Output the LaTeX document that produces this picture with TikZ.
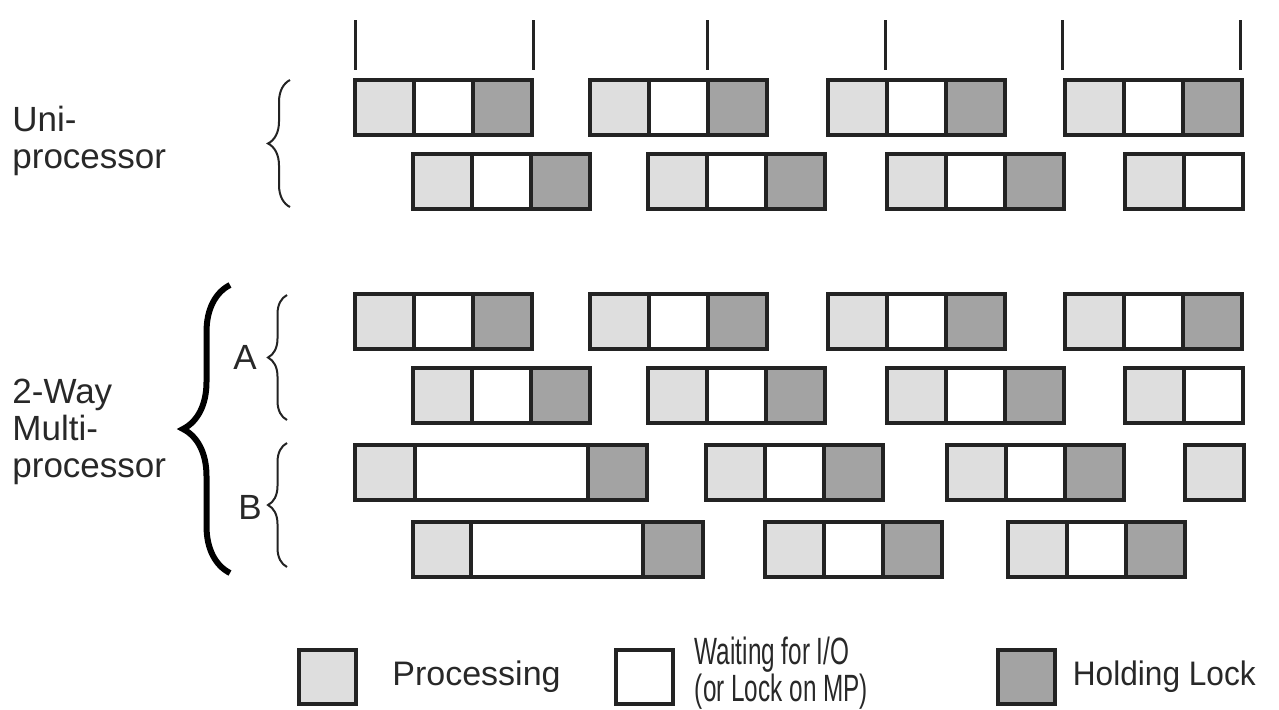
\documentclass[tikz,border=0pt]{standalone}
\usepackage{fontspec}
\setmainfont{Liberation Sans}
\usepackage{graphicx}
\usetikzlibrary{positioning,decorations.pathreplacing}
\definecolor{ProcGray}{RGB}{222,222,222}
\definecolor{HoldGray}{RGB}{163,163,163}
\definecolor{EdgeGray}{RGB}{35,35,35}
\definecolor{TextGray}{RGB}{40,40,40}

\newcommand{\cellbox}[4]{\draw[cell,fill=#4] (#1,#3) rectangle (#2,#3+55);}
\newcommand{\stdblock}[2]{\cellbox{#1}{#1+59}{#2}{ProcGray}\cellbox{#1+59}{#1+118}{#2}{white}\cellbox{#1+118}{#1+177}{#2}{HoldGray}}

\begin{document}
\begin{tikzpicture}[x=0.5pt,y=-0.5pt,
  cell/.style={draw=EdgeGray,line width=2pt},
  tick/.style={draw=EdgeGray,line width=1.5pt},
  thinbrace/.style={decorate,decoration={brace,amplitude=#1},draw=EdgeGray,line width=1pt},
  bigbrace/.style={decorate,decoration={brace,amplitude=#1},draw=black,line width=3pt},
  lbl/.style={inner sep=0pt,align=left,text=TextGray,font=\fontsize{17.5}{18.5}\selectfont},
  legbox/.style={draw=EdgeGray,line width=2pt,minimum width=28.5pt,minimum height=27pt,inner sep=0pt}]
\useasboundingbox (0,0) rectangle (1279,709);

\foreach \x in {355,533,707,885,1062,1240}
  \draw[tick] (\x,20) -- (\x,70);

\foreach \x in {355,590,828,1065} {\stdblock{\x}{80}\stdblock{\x}{294}}
\foreach \x in {413,648,887} {\stdblock{\x}{154}\stdblock{\x}{368}}
\foreach \y in {154,368} {\cellbox{1125}{1184}{\y}{ProcGray}\cellbox{1184}{1243}{\y}{white}}

\cellbox{355}{415}{445}{ProcGray}\cellbox{415}{588}{445}{white}\cellbox{588}{647}{445}{HoldGray}
\stdblock{706}{445}\stdblock{947}{445}
\cellbox{1185}{1244}{445}{ProcGray}

\cellbox{413}{471}{522}{ProcGray}\cellbox{471}{643}{522}{white}\cellbox{643}{703}{522}{HoldGray}
\stdblock{765}{522}\stdblock{1008}{522}

\coordinate (unitop) at (290,80);
\coordinate (unibot) at (290,207);
\coordinate (atop) at (287,295);
\coordinate (abot) at (287,420);
\coordinate (btop) at (287,443);
\coordinate (bbot) at (287,567);
\coordinate (mptop) at (230,285);
\coordinate (mpbot) at (230,573);
\draw[thinbrace=11pt] (unibot) -- (unitop);
\draw[thinbrace=9.5pt] (abot) -- (atop);
\draw[thinbrace=9.5pt] (bbot) -- (btop);
\draw[bigbrace=23.5pt] (mpbot) -- (mptop);

\node[lbl,anchor=north west] (uni) at (12,106) {Uni-\\processor};
\node[lbl,anchor=north west] (multi) at (12,379) {2-Way\\Multi-\\processor};
\node[lbl] (laba) at (245,357) {A};
\node[lbl] (labb) at (250,507) {B};

\node[legbox,fill=ProcGray] (lgproc) at (327.5,677) {};
\node[lbl,right=17pt of lgproc,font=\fontsize{17}{18}\selectfont] (txproc) {Processing};
\node[legbox,fill=white] (lgwait) at (644,677) {};
\node[lbl,right=10pt of lgwait,yshift=2pt,font=\fontsize{19}{16.5}\selectfont] (txwait) {\scalebox{0.64}[1]{Waiting for I/O}\\\scalebox{0.64}[1]{(or Lock on MP)}};
\node[legbox,fill=HoldGray] (lglock) at (1026,677) {};
\node[lbl,right=8pt of lglock,font=\fontsize{17}{18}\selectfont] (txlock) {\scalebox{0.93}[1]{Holding Lock}};
\end{tikzpicture}
\end{document}
